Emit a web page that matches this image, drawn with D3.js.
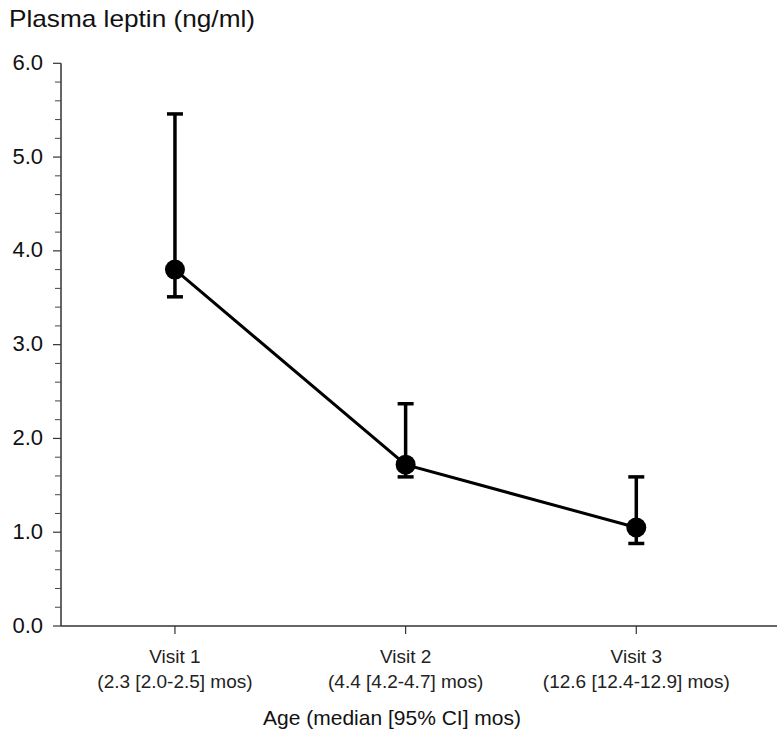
<!DOCTYPE html>
<html>
<head>
<meta charset="utf-8">
<script src="https://cdn.jsdelivr.net/npm/d3@7"></script>
<style>
  html, body { margin: 0; padding: 0; background: #fff; }
  svg { display: block; font-family: "Liberation Sans", Arial, sans-serif; }
</style>
</head>
<body>
<svg id="chart" width="784" height="745"></svg>
<script>
// ---- data ----
const visits = ["Visit 1", "Visit 2", "Visit 3"];
const ageLabels = ["(2.3 [2.0-2.5] mos)", "(4.4 [4.2-4.7] mos)", "(12.6 [12.4-12.9] mos)"];
const visitIndex = [1, 2, 3];
const means = [3.80, 1.72, 1.05];
const upper = [5.46, 2.37, 1.59];
const lower = [3.51, 1.59, 0.88];
const yTickValues = [0, 1, 2, 3, 4, 5, 6];
const yTitle = "Plasma leptin (ng/ml)";
const xTitle = "Age (median [95% CI] mos)";

// ---- layout ----
const svg = d3.select("#chart");
const x = d3.scaleLinear().domain([0.506, 3.61]).range([61, 777]);
const y = d3.scaleLinear().domain([0, 6]).range([626, 63.3]);

const data = visitIndex.map((v, i) => ({ v, mean: means[i], hi: upper[i], lo: lower[i] }));

// y axis line
svg.append("line")
  .attr("x1", x.range()[0]).attr("x2", x.range()[0])
  .attr("y1", y(6)).attr("y2", y(0))
  .attr("stroke", "#333").attr("stroke-width", 1.5);
// x axis line
svg.append("line")
  .attr("x1", x.range()[0]).attr("x2", x.range()[1])
  .attr("y1", y(0)).attr("y2", y(0))
  .attr("stroke", "#333").attr("stroke-width", 1.5);

// minor y ticks
const minor = d3.range(0, 30).map(d => d / 5).filter(d => !yTickValues.includes(Math.round(d*10)/10));
svg.append("g").selectAll("line").data(minor).join("line")
  .attr("x1", x.range()[0] - 6).attr("x2", x.range()[0])
  .attr("y1", d => y(d)).attr("y2", d => y(d))
  .attr("stroke", "#444").attr("stroke-width", 1);

// major y ticks + labels
const yt = svg.append("g").selectAll("g").data(yTickValues).join("g")
  .attr("transform", d => `translate(0,${y(d)})`);
yt.append("line")
  .attr("x1", x.range()[0] - 8).attr("x2", x.range()[0])
  .attr("stroke", "#333").attr("stroke-width", 1.2);
yt.append("text")
  .attr("x", 43).attr("y", 6.5)
  .attr("text-anchor", "end")
  .attr("font-size", 22).attr("fill", "#111")
  .text(d => d3.format(".1f")(d));

// x ticks + labels
const xt = svg.append("g").selectAll("g").data(visitIndex).join("g")
  .attr("transform", d => `translate(${x(d)},${y(0)})`);
xt.append("line").attr("y1", 0).attr("y2", 8)
  .attr("stroke", "#333").attr("stroke-width", 1.2);
xt.append("text").attr("y", 37).attr("text-anchor", "middle")
  .attr("font-size", 19).attr("fill", "#222")
  .text((d, i) => visits[i]);
xt.append("text").attr("y", 62).attr("text-anchor", "middle")
  .attr("font-size", 19).attr("fill", "#222")
  .text((d, i) => ageLabels[i]);

// titles
svg.append("text").attr("x", 9).attr("y", 27)
  .attr("font-size", 24).attr("fill", "#111")
  .attr("textLength", 246).attr("lengthAdjust", "spacingAndGlyphs")
  .text(yTitle);
svg.append("text").attr("x", 392).attr("y", 725)
  .attr("text-anchor", "middle")
  .attr("font-size", 21).attr("fill", "#111")
  .text(xTitle);

// error bars
const capW = 8;
const eb = svg.append("g").selectAll("g").data(data).join("g");
eb.append("line")
  .attr("x1", d => x(d.v)).attr("x2", d => x(d.v))
  .attr("y1", d => y(d.hi)).attr("y2", d => y(d.lo))
  .attr("stroke", "#000").attr("stroke-width", 3.5);
eb.append("line")
  .attr("x1", d => x(d.v) - capW).attr("x2", d => x(d.v) + capW)
  .attr("y1", d => y(d.hi)).attr("y2", d => y(d.hi))
  .attr("stroke", "#000").attr("stroke-width", 3.5);
eb.append("line")
  .attr("x1", d => x(d.v) - capW).attr("x2", d => x(d.v) + capW)
  .attr("y1", d => y(d.lo)).attr("y2", d => y(d.lo))
  .attr("stroke", "#000").attr("stroke-width", 3.5);

// line
svg.append("path").datum(data)
  .attr("d", d3.line().x(d => x(d.v)).y(d => y(d.mean)))
  .attr("fill", "none").attr("stroke", "#000").attr("stroke-width", 3);

// points
svg.append("g").selectAll("circle").data(data).join("circle")
  .attr("cx", d => x(d.v)).attr("cy", d => y(d.mean))
  .attr("r", 10).attr("fill", "#000");
</script>
</body>
</html>
